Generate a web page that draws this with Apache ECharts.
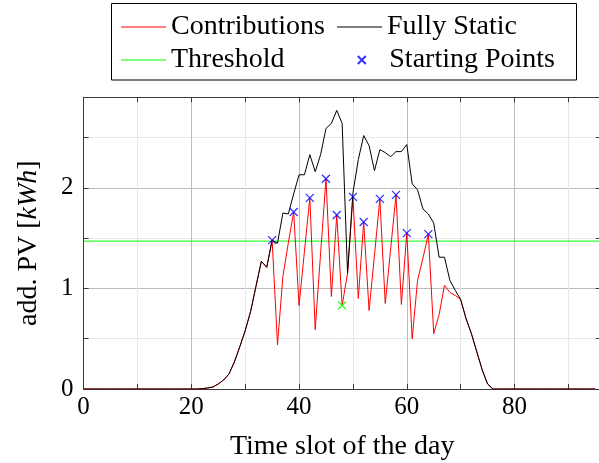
<!DOCTYPE html>
<html><head><meta charset="utf-8">
<script src="https://cdn.jsdelivr.net/npm/echarts@6/dist/echarts.min.js"></script>
<style>html,body{margin:0;padding:0;background:#fff}#c{width:599px;height:463px}</style>
</head><body><div id="c"></div>
<script>
// ---- data (index = time slot 0..95) ----
const fullyStatic = [
  0,0,0,0,0,0,0,0,0,0, 0,0,0,0,0,0,0,0,0,0, 0,0,
  0.003,0.01,0.02,0.05,0.09,0.15,0.27,0.42,0.58,0.77,1.02,1.27,1.21,1.48,
  1.45,1.75,1.74,1.94,2.13,2.13,2.33,2.16,2.33,2.59,2.64,2.77,2.64,1.15,
  1.95,2.28,2.52,2.42,2.17,2.38,2.35,2.31,2.36,2.36,2.43,2.04,1.98,1.79,
  1.74,1.65,1.31,1.31,1.08,0.98,0.89,0.70,0.55,0.37,0.19,0.05,0,
  0,0,0,0,0,0,0,0,0,0, 0,0,0,0,0,0,0,0,0
];
const contributions = [
  0,0,0,0,0,0,0,0,0,0, 0,0,0,0,0,0,0,0,0,0, 0,0,
  0.003,0.01,0.02,0.05,0.09,0.15,0.27,0.42,0.58,0.77,1.02,1.27,1.21,1.48,
  0.44,1.12,1.45,1.76,0.83,1.37,1.90,0.59,1.35,2.09,0.92,1.73,0.83,1.15,
  1.91,0.90,1.66,0.78,1.33,1.89,0.85,1.39,1.93,0.84,1.55,0.50,1.08,1.30,
  1.54,0.55,0.74,1.03,0.96,0.93,0.89,0.70,0.55,0.37,0.19,0.05,0,
  0,0,0,0,0,0,0,0,0,0, 0,0,0,0,0,0,0,0,0
];
const startSlots  = [35, 39, 42, 45, 47, 50, 52, 55, 58, 60, 64];
const startValues = [1.48,1.76,1.90,2.09,1.73,1.91,1.66,1.89,1.93,1.55,1.54];
const lowSlots  = [48];
const lowValues = [0.83];
const threshold = 1.47;
const xTickLabels = [0, 20, 40, 60, 80];
const yTickLabels = [0, 1, 2];

// ---- chart ----
const FONT = 'Liberation Serif';
const X_MAX = 96, Y_MAX = 2.9;
const MAJOR = '#bdbdbd', MINOR = '#e8e8e8', AX = '#3a3a3a';
const pairs = arr => arr.map((v, i) => [i, v]);
const zip = (xs, ys) => xs.map((x, i) => [x, ys[i]]);
const XSYM = 'path://M0,0L10,10M10,0L0,10';
const XLEG = 'path://M0,4L0,4M18.5,0L26.5,8M26.5,0L18.5,8M45,4L45,4';

const chart = echarts.init(document.getElementById('c'), null, {renderer: 'canvas'});
const legendBase = {
  orient: 'horizontal', padding: 0, itemWidth: 45, itemHeight: 1,
  textStyle: {fontFamily: FONT, fontSize: 28, color: '#000', lineHeight: 30},
  selectedMode: false
};
const option = {
  animation: false,
  backgroundColor: '#fff',
  grid: {left: 83.6, width: 517.1, top: 97.3, height: 291.7, containLabel: false,
         outerBoundsMode: 'none'},
  graphic: [{type: 'rect', z: 0, shape: {x: 111.5, y: 3.5, width: 465, height: 76.5},
             style: {fill: '#fff', stroke: '#000', lineWidth: 1}}],
  legend: [
    Object.assign({}, legendBase, {data: [{name: 'Contributions', icon: 'rect'}], left: 121, top: 12}),
    Object.assign({}, legendBase, {data: [{name: 'Fully Static', icon: 'rect'}], left: 337, top: 12}),
    Object.assign({}, legendBase, {data: [{name: 'Threshold', icon: 'rect'}], left: 121, top: 45}),
    Object.assign({}, legendBase, {data: [{name: 'Starting Points', icon: XLEG}], itemHeight: 8,
                                   left: 338.3, top: 45})
  ],
  xAxis: [
    {type: 'value', position: 'bottom', min: 0, max: X_MAX, interval: 10,
     axisLine: {show: true, onZero: false, lineStyle: {color: AX, width: 1}},
     axisTick: {show: true, inside: true, length: 5, lineStyle: {color: AX}},
     axisLabel: {formatter: v => xTickLabels.includes(v) ? String(v) : '',
                 fontFamily: FONT, fontSize: 25, color: '#000', margin: 6},
     splitLine: {show: true, lineStyle: {color: MINOR, width: 1}},
     name: 'Time slot of the day', nameLocation: 'middle', nameGap: 44,
     nameTextStyle: {fontFamily: FONT, fontSize: 28, color: '#000'}},
    {type: 'value', position: 'top', min: 0, max: X_MAX, interval: 10,
     axisLine: {show: true, onZero: false, lineStyle: {color: AX, width: 1}},
     axisTick: {show: true, inside: true, length: 5, lineStyle: {color: AX}},
     axisLabel: {show: false}, splitLine: {show: false}},
    {type: 'value', position: 'bottom', min: 0, max: X_MAX, interval: 20,
     axisLine: {show: false}, axisTick: {show: false}, axisLabel: {show: false},
     splitLine: {show: true, lineStyle: {color: MAJOR, width: 1}}}
  ],
  yAxis: [
    {type: 'value', position: 'left', min: 0, max: Y_MAX, interval: 0.5,
     axisLine: {show: true, onZero: false, lineStyle: {color: AX, width: 1}},
     axisTick: {show: true, inside: true, length: 5, lineStyle: {color: AX}},
     axisLabel: {formatter: v => yTickLabels.includes(v) ? String(v) : '',
                 fontFamily: FONT, fontSize: 25, color: '#000', margin: 10},
     splitLine: {show: true, lineStyle: {color: MINOR, width: 1}},
     name: '{a|add. PV [}{b|kWh}{a|]}', nameLocation: 'middle', nameGap: 41, nameRotate: 90,
     nameTextStyle: {rich: {
       a: {fontFamily: FONT, fontSize: 28, color: '#000'},
       b: {fontFamily: FONT, fontSize: 28, color: '#000', fontStyle: 'italic'}}}},
    {type: 'value', position: 'right', min: 0, max: Y_MAX, interval: 0.5,
     axisLine: {show: true, onZero: false, lineStyle: {color: AX, width: 1}},
     axisTick: {show: true, inside: true, length: 5, lineStyle: {color: AX}},
     axisLabel: {show: false}, splitLine: {show: false}},
    {type: 'value', position: 'left', min: 0, max: Y_MAX, interval: 1,
     axisLine: {show: false}, axisTick: {show: false}, axisLabel: {show: false},
     splitLine: {show: true, lineStyle: {color: MAJOR, width: 1}}}
  ],
  series: [
    {name: 'Contributions', type: 'line', data: pairs(contributions), symbol: 'none',
     color: '#ff0000', lineStyle: {color: '#ff0000', width: 1}, z: 3},
    {name: 'Fully Static', type: 'line', data: pairs(fullyStatic), symbol: 'none',
     color: '#000000', lineStyle: {color: '#000000', width: 1}, z: 4},
    {name: 'Threshold', type: 'line', data: [[0, threshold], [X_MAX, threshold]], symbol: 'none',
     color: '#00ff00', lineStyle: {color: '#00ff00', width: 1}, z: 2},
    {name: 'Starting Points', type: 'scatter', data: zip(startSlots, startValues),
     symbol: XSYM, symbolSize: 8, symbolKeepAspect: true,
     itemStyle: {color: 'rgba(0,0,0,0)', borderColor: '#0000ff', borderWidth: 1.3}, z: 6},
    {name: 'Lowest', type: 'scatter', data: zip(lowSlots, lowValues),
     symbol: XSYM, symbolSize: 8, symbolKeepAspect: true,
     itemStyle: {color: 'rgba(0,0,0,0)', borderColor: '#00ff00', borderWidth: 1.3}, z: 6}
  ]
};
chart.setOption(option);
</script></body></html>
